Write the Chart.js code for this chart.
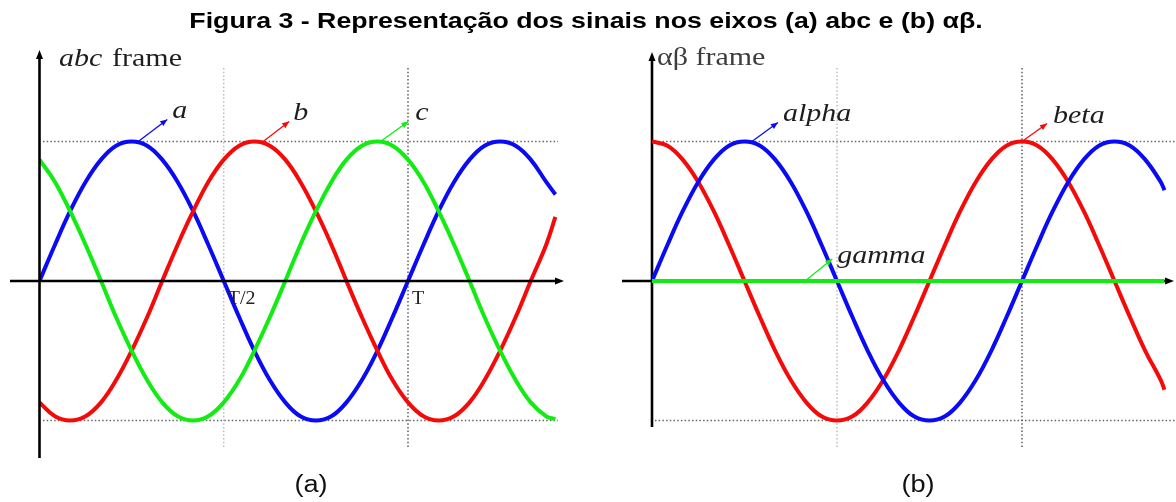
<!DOCTYPE html>
<html>
<head>
<meta charset="utf-8">
<title>Sinais abc e αβ</title>
<script src="https://cdn.jsdelivr.net/npm/chart.js@4.4.1/dist/chart.umd.min.js"></script>
<style>
  html, body { margin: 0; padding: 0; background: #fff; }
  #wrap { position: relative; width: 1176px; height: 502px; }
  #wrap canvas { position: absolute; left: 0; top: 0; }
</style>
</head>
<body>
<div id="wrap">
  <canvas id="chartAbc" width="1176" height="502"></canvas>
  <canvas id="chartAb" width="1176" height="502"></canvas>
</div>
<script>
// time axis in fractions of the period T
const TIME_ABC = [0, 0.042, 0.083, 0.125, 0.167, 0.208, 0.25, 0.292, 0.333, 0.375, 0.417, 0.458,
  0.5, 0.542, 0.583, 0.625, 0.667, 0.708, 0.75, 0.792, 0.833, 0.875, 0.917, 0.958,
  1, 1.042, 1.083, 1.125, 1.167, 1.208, 1.25, 1.292, 1.333, 1.375, 1.4];
const TIME_AB = [0, 0.042, 0.083, 0.125, 0.167, 0.208, 0.25, 0.292, 0.333, 0.375, 0.417, 0.458,
  0.5, 0.542, 0.583, 0.625, 0.667, 0.708, 0.75, 0.792, 0.833, 0.875, 0.917, 0.958,
  1, 1.042, 1.083, 1.125, 1.167, 1.208, 1.25, 1.292, 1.333, 1.375, 1.385];

// (a) three phase signals
const SIG_A = [0, 0.26, 0.5, 0.71, 0.87, 0.97, 1, 0.97, 0.87, 0.71, 0.5, 0.26, 0, -0.26, -0.5, -0.71, -0.87, -0.97,
  -1, -0.97, -0.87, -0.71, -0.5, -0.26, 0, 0.26, 0.5, 0.71, 0.87, 0.97, 1, 0.97, 0.87, 0.71, 0.62];
const SIG_B = [-0.87, -0.97, -1, -0.97, -0.87, -0.71, -0.5, -0.26, 0, 0.26, 0.5, 0.71, 0.87, 0.97, 1, 0.97, 0.87, 0.71,
  0.5, 0.26, 0, -0.26, -0.5, -0.71, -0.87, -0.97, -1, -0.97, -0.87, -0.71, -0.5, -0.26, 0, 0.26, 0.46];
const SIG_C = [0.87, 0.71, 0.5, 0.26, 0, -0.26, -0.5, -0.71, -0.87, -0.97, -1, -0.97, -0.87, -0.71, -0.5, -0.26, 0, 0.26,
  0.5, 0.71, 0.87, 0.97, 1, 0.97, 0.87, 0.71, 0.5, 0.26, 0, -0.26, -0.5, -0.71, -0.87, -0.97, -0.99];

// (b) alpha / beta / gamma components
const SIG_ALPHA = [0, 0.26, 0.5, 0.71, 0.87, 0.97, 1, 0.97, 0.87, 0.71, 0.5, 0.26, 0, -0.26, -0.5, -0.71, -0.87, -0.97,
  -1, -0.97, -0.87, -0.71, -0.5, -0.26, 0, 0.26, 0.5, 0.71, 0.87, 0.97, 1, 0.97, 0.87, 0.71, 0.65];
const SIG_BETA = [1, 0.97, 0.87, 0.71, 0.5, 0.26, 0, -0.26, -0.5, -0.71, -0.87, -0.97, -1, -0.97, -0.87, -0.71, -0.5, -0.26,
  0, 0.26, 0.5, 0.71, 0.87, 0.97, 1, 0.97, 0.87, 0.71, 0.5, 0.26, 0, -0.26, -0.5, -0.71, -0.78];
const SIG_GAMMA = [0, 0, 0, 0, 0, 0, 0, 0, 0, 0, 0, 0, 0, 0, 0, 0, 0, 0,
  0, 0, 0, 0, 0, 0, 0, 0, 0, 0, 0, 0, 0, 0, 0, 0, 0];

// reference levels and time marks
const LEVELS = [1, -1];
const MARK_TIMES = [0.5, 1];
const MARK_LABELS = ['T/2', 'T'];

const BLUE = '#0a0af5';
const RED = '#f50a0a';
const GREEN = '#12ec12';
const SERIF = '"Liberation Serif", "DejaVu Serif", serif';
const SANS = '"Liberation Sans", Arial, sans-serif';

function toPoints(ts, vs) {
  return ts.map((t, i) => ({ x: t, y: vs[i] }));
}

function seg(ctx, x1, y1, x2, y2) {
  ctx.beginPath();
  ctx.moveTo(x1, y1);
  ctx.lineTo(x2, y2);
  ctx.stroke();
}

function arrowHead(ctx, x, y, ang, len, half) {
  const c = Math.cos(ang), s = Math.sin(ang);
  ctx.beginPath();
  ctx.moveTo(x, y);
  ctx.lineTo(x - len * c - half * s, y - len * s + half * c);
  ctx.lineTo(x - len * c + half * s, y - len * s - half * c);
  ctx.closePath();
  ctx.fill();
}

// the figure's lettering is a bit wide, hence the x stretch
function stretchText(ctx, str, x, y, font, color, sx, align) {
  ctx.save();
  ctx.font = font;
  ctx.fillStyle = color;
  ctx.textBaseline = 'alphabetic';
  ctx.textAlign = align || 'left';
  ctx.translate(x, y);
  ctx.scale(sx, 1);
  ctx.fillText(str, 0, 0);
  ctx.restore();
}

function makeFramePlugin(cfg) {
  function guides(chart) {
    const { ctx, scales: { x, y } } = chart;
    ctx.save();
    ctx.lineWidth = 1.3;
    ctx.setLineDash([1.5, 2.2]);
    ctx.strokeStyle = '#666';
    LEVELS.forEach(v => {
      const py = y.getPixelForValue(v);
      seg(ctx, cfg.hLeft, py, cfg.hRight, py);
    });
    MARK_TIMES.forEach((t, i) => {
      const px = x.getPixelForValue(t);
      ctx.strokeStyle = i === 0 ? '#b4b4b4' : '#444';
      seg(ctx, px, cfg.vTop, px, cfg.vBottom);
    });
    ctx.restore();
  }

  function axes(chart) {
    const { ctx, scales: { x, y } } = chart;
    const x0 = x.getPixelForValue(0);
    const y0 = y.getPixelForValue(0);
    ctx.save();
    ctx.strokeStyle = '#000';
    ctx.fillStyle = '#000';
    ctx.lineWidth = 2.6;
    seg(ctx, x0, cfg.axisTop + 6, x0, cfg.axisBottom);
    arrowHead(ctx, x0, cfg.axisTop, -Math.PI / 2, 9, 3.5);
    seg(ctx, cfg.axisLeft, y0, cfg.axisRight - 6, y0);
    arrowHead(ctx, cfg.axisRight, y0, 0, 9, 3.5);
    ctx.restore();
  }

  function callouts(chart) {
    const { ctx, scales: { x, y } } = chart;
    cfg.callouts.forEach(c => {
      const sx = x.getPixelForValue(c.t);
      const sy = y.getPixelForValue(c.v);
      const ex = sx + c.dx, ey = sy + c.dy;
      ctx.save();
      ctx.strokeStyle = c.color;
      ctx.fillStyle = c.color;
      ctx.lineWidth = 1.3;
      seg(ctx, sx, sy, ex, ey);
      arrowHead(ctx, ex, ey, Math.atan2(c.dy, c.dx), 7, 3);
      ctx.restore();
      stretchText(ctx, c.text, ex + c.tx, ey + c.ty, 'italic 25px ' + SERIF, '#1e1e1e', 1.2);
    });
    if (cfg.markLabels) {
      MARK_LABELS.forEach((s, i) => {
        const px = x.getPixelForValue(MARK_TIMES[i]);
        stretchText(ctx, s, px + cfg.markDx, cfg.markY, '19px ' + SERIF, '#222', 1.05);
      });
    }
    cfg.extraText(ctx);
  }

  return {
    id: 'frame',
    beforeDatasetsDraw(chart) {
      guides(chart);
      if (!cfg.axesOnTop) axes(chart);
    },
    afterDatasetsDraw(chart) {
      if (cfg.axesOnTop) axes(chart);
    },
    afterDraw(chart) {
      callouts(chart);
    }
  };
}

function lineSet(label, ts, vs, color, order) {
  return {
    label,
    data: toPoints(ts, vs),
    borderColor: color,
    borderWidth: 4,
    pointRadius: 0,
    tension: 0.4,
    fill: false,
    order
  };
}

function baseOptions(padding, xMax) {
  return {
    responsive: false,
    devicePixelRatio: 1,
    animation: false,
    layout: { padding },
    scales: {
      x: { type: 'linear', min: 0, max: xMax, display: false },
      y: { type: 'linear', min: -1.25, max: 1.25, display: false }
    },
    plugins: {
      legend: { display: false },
      tooltip: { enabled: false }
    }
  };
}

// (a) abc frame
new Chart(document.getElementById('chartAbc'), {
  type: 'line',
  data: {
    datasets: [
      lineSet('a', TIME_ABC, SIG_A, BLUE, 2),
      lineSet('b', TIME_ABC, SIG_B, RED, 1),
      lineSet('c', TIME_ABC, SIG_C, GREEN, 0)
    ]
  },
  options: baseOptions({ left: 39.5, right: 583.75, top: 106.6, bottom: 46.6 }, 1.5),
  plugins: [makeFramePlugin({
    hLeft: 43, hRight: 558,
    vTop: 68, vBottom: 447,
    axisTop: 50, axisBottom: 458, axisLeft: 10, axisRight: 564,
    axesOnTop: true,
    markLabels: true, markDx: 4, markY: 304,
    callouts: [
      { text: 'a', t: 0.268, v: 1, dx: 29, dy: -22, tx: 5, ty: -1, color: BLUE },
      { text: 'b', t: 0.607, v: 1, dx: 26, dy: -20, tx: 4, ty: -1, color: RED },
      { text: 'c', t: 0.925, v: 1, dx: 28, dy: -20, tx: 7, ty: -1, color: GREEN }
    ],
    extraText(ctx) {
      stretchText(ctx, 'Figura 3 - Representação dos sinais nos eixos (a) abc e (b) αβ.', 586, 28,
        'bold 22px ' + SANS, '#000', 1.215, 'center');
      stretchText(ctx, '(a)', 311, 492, '23px ' + SANS, '#111', 1.18, 'center');
      stretchText(ctx, '(b)', 918, 492, '23px ' + SANS, '#111', 1.18, 'center');
      stretchText(ctx, 'abc', 59, 66, 'italic 25px ' + SERIF, '#1e1e1e', 1.2);
      stretchText(ctx, 'frame', 112, 66, '25px ' + SERIF, '#1e1e1e', 1.2);
    }
  })]
});

// (b) alpha-beta frame
new Chart(document.getElementById('chartAb'), {
  type: 'line',
  data: {
    datasets: [
      lineSet('gamma', TIME_AB, SIG_GAMMA, GREEN, 0),
      lineSet('alpha', TIME_AB, SIG_ALPHA, BLUE, 1),
      lineSet('beta', TIME_AB, SIG_BETA, RED, 2)
    ]
  },
  options: baseOptions({ left: 652, right: 6, top: 106.6, bottom: 46.6 }, 1.4),
  plugins: [makeFramePlugin({
    hLeft: 655, hRight: 1176,
    vTop: 68, vBottom: 449,
    axisTop: 52, axisBottom: 427, axisLeft: 622, axisRight: 1174,
    axesOnTop: false,
    markLabels: false,
    callouts: [
      { text: 'alpha', t: 0.27, v: 1, dx: 26, dy: -19, tx: 5, ty: -1, color: BLUE },
      { text: 'beta', t: 1.0, v: 1, dx: 25, dy: -18, tx: 6, ty: 0, color: RED },
      { text: 'gamma', t: 0.414, v: 0, dx: 27, dy: -22, tx: 5, ty: 4, color: GREEN }
    ],
    extraText(ctx) {
      stretchText(ctx, 'αβ frame', 657, 65, '25px ' + SERIF, '#3c3c3c', 1.2);
    }
  })]
});
</script>
</body>
</html>
